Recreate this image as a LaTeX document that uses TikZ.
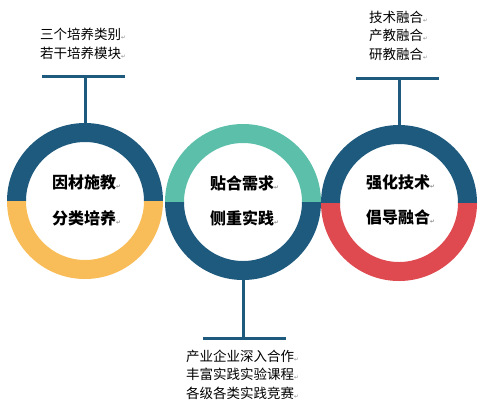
\documentclass[tikz,border=0pt]{standalone}
\usepackage{fontspec}
\setmainfont{Noto Sans CJK SC}
\newfontfamily\symfont{DejaVu Sans}
\usetikzlibrary{calc}
\definecolor{navy}{HTML}{1E5A7E}
\definecolor{teal2}{HTML}{5CBFAA}
\definecolor{yellow2}{HTML}{F8BD58}
\definecolor{red2}{HTML}{DE4A4F}
\newcommand\pmark{{\symfont\fontsize{5.5}{6}\selectfont\textcolor{gray}{↵}}}
\newcommand\myhalfring[3]{%
  \fill[#3] ($(#1)+(#2:78)$) arc[start angle=#2,delta angle=180,radius=78]
    -- ($(#1)+(#2+180:59)$) arc[start angle=#2+180,delta angle=-180,radius=59] -- cycle;}
\tikzset{
  stem/.style={line width=3pt, navy},
  smalltext/.style={font=\fontsize{13.5}{16}\selectfont, anchor=base west, inner sep=0pt},
  bigtext/.style={font=\bfseries\fontsize{16}{18}\selectfont, anchor=base west, inner sep=0pt},
  ringnode/.style={circle, minimum size=156pt, inner sep=0pt},
}
\begin{document}
\begin{tikzpicture}[x=1pt,y=-1pt]
\useasboundingbox (0,0) rectangle (479,405);
% rings
\coordinate (c1) at (85,201);
\coordinate (c2) at (243,202);
\coordinate (c3) at (399,203);
\myhalfring{c1}{180}{navy}
\myhalfring{c1}{0}{yellow2}
\myhalfring{c2}{180}{teal2}
\myhalfring{c2}{0}{navy}
\myhalfring{c3}{180}{navy}
\myhalfring{c3}{0}{red2}
\node[ringnode] (r1) at (c1) {};
\node[ringnode] (r2) at (c2) {};
\node[ringnode] (r3) at (c3) {};
% bars and stems
\coordinate (b1l) at (42,76);
\coordinate (b1r) at (125,76);
\coordinate (b3l) at (356,78);
\coordinate (b3r) at (439,78);
\coordinate (b2l) at (203,338);
\coordinate (b2r) at (286,338);
\draw[stem] (b1l) -- (b1r);
\draw[stem] (b3l) -- (b3r);
\draw[stem] (b2l) -- (b2r);
\draw[stem] (r1.north) -- (r1.north |- b1l);
\draw[stem] (r3.north) -- (r3.north |- b3l);
\draw[stem] (r2.south) -- (r2.south |- b2l);
% circle texts
\node[bigtext] (t11) at (52,188) {因材施教\pmark};
\node[bigtext] (t12) at (52,224) {分类培养\pmark};
\node[bigtext] (t21) at (210,189) {贴合需求\pmark};
\node[bigtext] (t22) at (210,224) {侧重实践\pmark};
\node[bigtext] (t31) at (366,188) {强化技术\pmark};
\node[bigtext] (t32) at (366,223) {倡导融合\pmark};
% side texts
\node[smalltext] (s11) at (40,39) {三个培养类别\pmark};
\node[smalltext] (s12) at (40,58) {若干培养模块\pmark};
\node[smalltext] (s31) at (369,22) {技术融合\pmark};
\node[smalltext] (s32) at (369,40) {产教融合\pmark};
\node[smalltext] (s33) at (369,59) {研教融合\pmark};
\node[smalltext] (s21) at (186,361) {产业企业深入合作\pmark};
\node[smalltext] (s22) at (186,379) {丰富实践实验课程\pmark};
\node[smalltext] (s23) at (186,398) {各级各类实践竞赛\pmark};
\end{tikzpicture}
\end{document}
